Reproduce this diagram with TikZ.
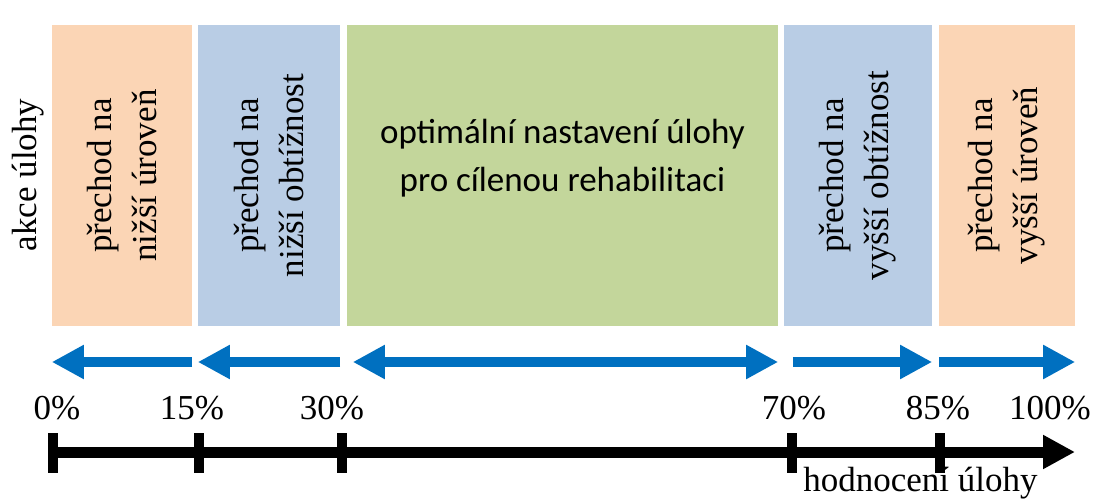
\documentclass[tikz,border=0pt]{standalone}
\usepackage{fontspec}
\setmainfont{Liberation Serif}
\newfontfamily\calibri{Carlito}
\usetikzlibrary{positioning, arrows.meta}
\definecolor{oranzova}{HTML}{FBD5B5}
\definecolor{modra}{HTML}{B9CDE5}
\definecolor{zelena}{HTML}{C3D69B}
\definecolor{sipka}{HTML}{0070C0}

\begin{document}
\begin{tikzpicture}[x=1pt, y=-1pt,
    pasmo/.style={rectangle, minimum height=301pt, inner sep=0pt},
    svisle/.style={rotate=90, align=center, font=\fontsize{35}{45}\selectfont},
    akce/.style={line width=10pt, draw=sipka, -{Triangle[length=32pt,width=32pt]}},
    osa/.style={line width=11pt, -{Triangle[length=32pt,width=32pt]}},
    popis/.style={font=\fontsize{35}{42}\selectfont, anchor=base, inner sep=0pt}]
  \useasboundingbox (0,0) rectangle (1093,500);

  % pasma hodnoceni
  \node[pasmo, fill=oranzova, minimum width=140pt] (b1) at (122,175.5) {};
  \node[pasmo, fill=modra, minimum width=142pt] (b2) at (269,175.5) {};
  \node[pasmo, fill=zelena, minimum width=431pt] (b3) at (562.5,175.5) {};
  \node[pasmo, fill=modra, minimum width=148pt] (b4) at (858,175.5) {};
  \node[pasmo, fill=oranzova, minimum width=136pt] (b5) at (1007,175.5) {};

  \node[svisle] (akce) at (28,175) {akce úlohy};
  \node[svisle] (t1) at (b1) {přechod na\\nižší úroveň};
  \node[svisle] (t2) at (b2) {přechod na\\nižší obtížnost};
  \node[align=center, yshift=17pt, font=\calibri\fontsize{35}{48}\selectfont] (t3) at (b3)
    {optimální nastavení úlohy\\pro cílenou rehabilitaci};
  \node[svisle] (t4) at (b4) {přechod na\\vyšší obtížnost};
  \node[svisle] (t5) at (b5) {přechod na\\vyšší úroveň};

  % sipky akci
  \coordinate (a3) at (b3.west |- 0,362);
  \coordinate[xshift=6pt] (a3l) at (a3);
  \coordinate[xshift=9pt] (a4) at (b4.west |- 0,362);
  \draw[akce] (b1.east |- 0,362) -- (b1.west |- 0,362);
  \draw[akce] (b2.east |- 0,362) -- (b2.west |- 0,362);
  \draw[akce, {Triangle[length=32pt,width=32pt]}-{Triangle[length=32pt,width=32pt]}] (a3l) -- (b3.east |- 0,362);
  \draw[akce] (a4) -- (b4.east |- 0,362);
  \draw[akce] (b5.west |- 0,362) -- (b5.east |- 0,362);

  % osa hodnoceni
  \coordinate (o0) at (48,452);
  \coordinate (o1) at (1075,452);
  \draw[osa] (o0) -- (o1);
  \foreach \x/\lx/\p in {53/57/0, 198.5/192/15, 341.5/332/30, 792/794/70, 940/938/85}{
    \fill (\x-5,433) rectangle (\x+5,473);
    \node[popis] (p\p) at (\lx,419) {\p\%};
  }
  \node[popis] (p100) at (1050,419) {100\%};
  \node[popis] (hodn) at (920.5,491) {hodnocení úlohy};
\end{tikzpicture}
\end{document}
